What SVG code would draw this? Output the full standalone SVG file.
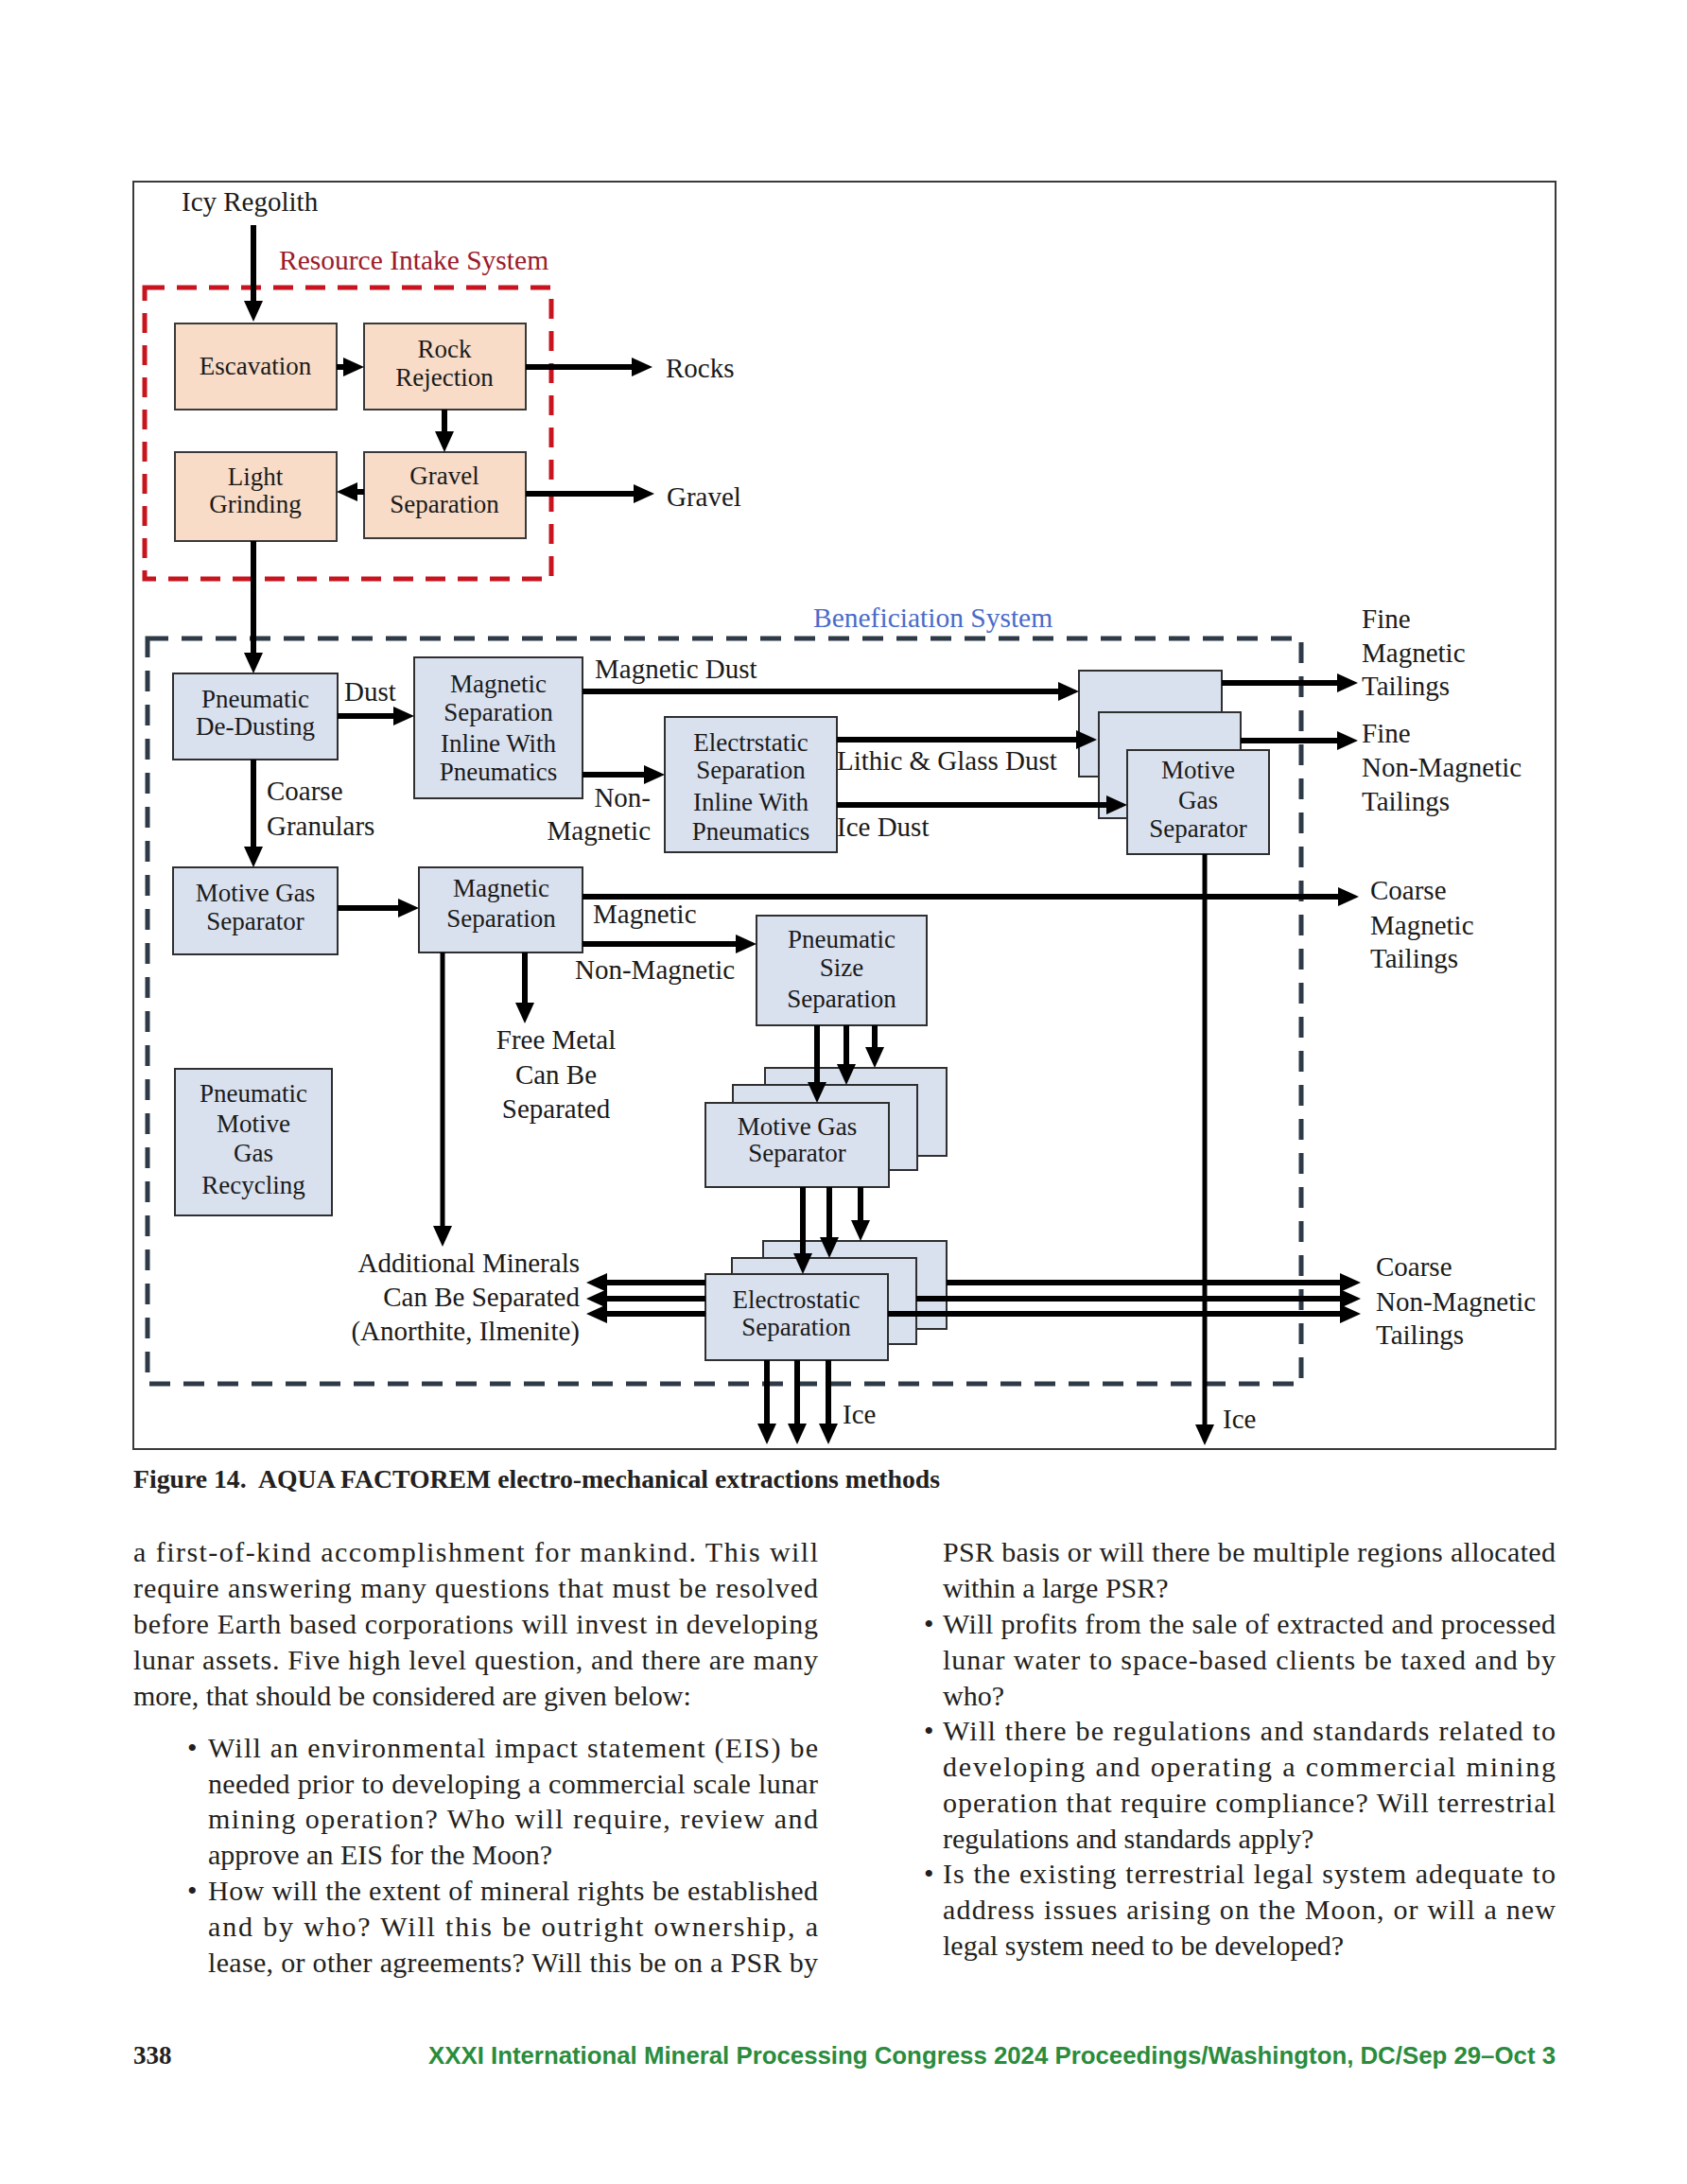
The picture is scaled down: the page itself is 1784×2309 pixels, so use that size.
<svg xmlns="http://www.w3.org/2000/svg" width="1784" height="2309" viewBox="0 0 1784 2309">
<style>
.t{font-family:"Liberation Serif","Times New Roman",serif;fill:#1a1a1a}
.lb{font-size:29px}
.bx{font-size:27px;text-anchor:middle}
.pe{fill:#f8dcc7;stroke:#3a3a3a;stroke-width:2}
.bl{fill:#d9e1ef;stroke:#2f2f2f;stroke-width:2}
.ar{fill:none;stroke:#000;stroke-width:6;marker-end:url(#ah)}
.thin{stroke-width:5}
.body{font-family:"Liberation Serif","Times New Roman",serif;font-size:30px;fill:#231f20}
</style>
<defs>
<marker id="ah" markerUnits="userSpaceOnUse" markerWidth="22" markerHeight="20" viewBox="0 0 22 20" refX="2" refY="10" orient="auto"><path d="M0,0 L22,10 L0,20 z" fill="#000"/></marker>
</defs>
<rect width="1784" height="2309" fill="#fff"/>
<rect id="frame" x="141" y="192" width="1504" height="1340" fill="none" stroke="#3a3a3a" stroke-width="2"/>

<g id="resource-intake-system">
<rect x="153" y="304" width="430" height="308" fill="none" stroke="#c8141e" stroke-width="5" stroke-dasharray="21 13"/>
<text class="t" x="295" y="285" font-size="29.5" style="fill:#9b1b2b">Resource Intake System</text>
</g>
<g id="beneficiation-system">
<rect x="156" y="675" width="1220" height="788" fill="none" stroke="#2f3a48" stroke-width="5" stroke-dasharray="22 14"/>
<text class="t" x="860" y="663" font-size="29.5" style="fill:#4a6bc9">Beneficiation System</text>
</g>

<g id="escavation"><rect class="pe" x="185" y="342" width="171" height="91"/><text class="t bx" x="270" y="396">Escavation</text></g>
<g id="rock-rejection"><rect class="pe" x="385" y="342" width="171" height="91"/><text class="t bx" x="470" y="378">Rock</text><text class="t bx" x="470" y="408">Rejection</text></g>
<g id="light-grinding"><rect class="pe" x="185" y="478" width="171" height="94"/><text class="t bx" x="270" y="513">Light</text><text class="t bx" x="270" y="542">Grinding</text></g>
<g id="gravel-separation"><rect class="pe" x="385" y="478" width="171" height="91"/><text class="t bx" x="470" y="512">Gravel</text><text class="t bx" x="470" y="542">Separation</text></g>

<g id="pneumatic-de-dusting"><rect class="bl" x="183" y="712" width="174" height="91"/><text class="t bx" x="270" y="748">Pneumatic</text><text class="t bx" x="270" y="777">De-Dusting</text></g>
<g id="magnetic-separation-inline"><rect class="bl" x="438" y="695" width="178" height="149"/><text class="t bx" x="527" y="732">Magnetic</text><text class="t bx" x="527" y="762">Separation</text><text class="t bx" x="527" y="795">Inline With</text><text class="t bx" x="527" y="825">Pneumatics</text></g>
<g id="electrstatic-separation-inline"><rect class="bl" x="703" y="758" width="182" height="143"/><text class="t bx" x="794" y="794">Electrstatic</text><text class="t bx" x="794" y="823">Separation</text><text class="t bx" x="794" y="857">Inline With</text><text class="t bx" x="794" y="888">Pneumatics</text></g>
<g id="motive-gas-separator-right"><rect class="bl" x="1141" y="709" width="151" height="112"/><rect class="bl" x="1162" y="753" width="150" height="112"/><rect class="bl" x="1192" y="793" width="150" height="110"/><text class="t bx" x="1267" y="823">Motive</text><text class="t bx" x="1267" y="855">Gas</text><text class="t bx" x="1267" y="885">Separator</text></g>
<g id="motive-gas-separator-left"><rect class="bl" x="183" y="917" width="174" height="92"/><text class="t bx" x="270" y="953">Motive Gas</text><text class="t bx" x="270" y="983">Separator</text></g>
<g id="magnetic-separation"><rect class="bl" x="443" y="917" width="173" height="90"/><text class="t bx" x="530" y="948">Magnetic</text><text class="t bx" x="530" y="980">Separation</text></g>
<g id="pneumatic-size-separation"><rect class="bl" x="800" y="968" width="180" height="116"/><text class="t bx" x="890" y="1002">Pneumatic</text><text class="t bx" x="890" y="1032">Size</text><text class="t bx" x="890" y="1065">Separation</text></g>
<g id="pneumatic-motive-gas-recycling"><rect class="bl" x="185" y="1130" width="166" height="155"/><text class="t bx" x="268" y="1165">Pneumatic</text><text class="t bx" x="268" y="1197">Motive</text><text class="t bx" x="268" y="1228">Gas</text><text class="t bx" x="268" y="1262">Recycling</text></g>
<g id="motive-gas-separator-stack"><rect class="bl" x="809" y="1129" width="192" height="93"/><rect class="bl" x="775" y="1147" width="195" height="90"/><rect class="bl" x="746" y="1166" width="194" height="89"/><text class="t bx" x="843" y="1200">Motive Gas</text><text class="t bx" x="843" y="1228">Separator</text></g>
<g id="electrostatic-separation-stack"><rect class="bl" x="807" y="1312" width="194" height="93"/><rect class="bl" x="774" y="1330" width="195" height="91"/><rect class="bl" x="746" y="1347" width="193" height="91"/><text class="t bx" x="842" y="1383">Electrostatic</text><text class="t bx" x="842" y="1412">Separation</text></g>

<g id="labels">
<text class="t lb" x="192" y="223">Icy Regolith</text>
<text class="t lb" x="704" y="399">Rocks</text>
<text class="t lb" x="705" y="535">Gravel</text>
<text class="t lb" x="364" y="741">Dust</text>
<text class="t lb" x="282" y="846">Coarse</text>
<text class="t lb" x="282" y="883">Granulars</text>
<text class="t lb" x="629" y="717">Magnetic Dust</text>
<text class="t lb" x="688" y="853" text-anchor="end">Non-</text>
<text class="t lb" x="688" y="888" text-anchor="end">Magnetic</text>
<text class="t lb" x="885" y="814">Lithic &amp; Glass Dust</text>
<text class="t lb" x="885" y="884">Ice Dust</text>
<text class="t lb" x="1440" y="664">Fine</text>
<text class="t lb" x="1440" y="700">Magnetic</text>
<text class="t lb" x="1440" y="735">Tailings</text>
<text class="t lb" x="1440" y="785">Fine</text>
<text class="t lb" x="1440" y="821">Non-Magnetic</text>
<text class="t lb" x="1440" y="857">Tailings</text>
<text class="t lb" x="1449" y="951">Coarse</text>
<text class="t lb" x="1449" y="988">Magnetic</text>
<text class="t lb" x="1449" y="1023">Tailings</text>
<text class="t lb" x="627" y="976">Magnetic</text>
<text class="t lb" x="608" y="1035">Non-Magnetic</text>
<text class="t lb" x="588" y="1109" text-anchor="middle">Free Metal</text>
<text class="t lb" x="588" y="1146" text-anchor="middle">Can Be</text>
<text class="t lb" x="588" y="1182" text-anchor="middle">Separated</text>
<text class="t lb" x="613" y="1345" text-anchor="end" font-size="30">Additional Minerals</text>
<text class="t lb" x="613" y="1381" text-anchor="end" font-size="30">Can Be Separated</text>
<text class="t lb" x="613" y="1417" text-anchor="end" font-size="30">(Anorthite, Ilmenite)</text>
<text class="t lb" x="1455" y="1349">Coarse</text>
<text class="t lb" x="1455" y="1386">Non-Magnetic</text>
<text class="t lb" x="1455" y="1421">Tailings</text>
<text class="t lb" x="891" y="1505">Ice</text>
<text class="t lb" x="1293" y="1510">Ice</text>
</g>

<g id="connectors">
<path class="ar" d="M268,238 V320"/>
<path class="ar" d="M356,388 H365"/>
<path class="ar" d="M556,388 H670"/>
<path class="ar" d="M470,433 V458"/>
<path class="ar" d="M385,520 H376"/>
<path class="ar" d="M556,522 H672"/>
<path class="ar" d="M268,572 V692"/>
<path class="ar" d="M357,757 H418"/>
<path class="ar" d="M268,803 V897"/>
<path class="ar" d="M616,731 H1121"/>
<path class="ar" d="M616,819 H683"/>
<path class="ar" d="M885,782 H1140"/>
<path class="ar" d="M885,851 H1172"/>
<path class="ar" d="M1292,722 H1416"/>
<path class="ar" d="M1312,783 H1416"/>
<path class="ar thin" d="M1274,903 V1508"/>
<path class="ar" d="M357,960 H423"/>
<path class="ar" d="M616,948 H1417"/>
<path class="ar" d="M616,998 H780"/>
<path class="ar" d="M555,1007 V1062"/>
<path class="ar thin" d="M468,1007 V1298"/>
<path class="ar" d="M864,1084 V1146"/>
<path class="ar" d="M895,1084 V1127"/>
<path class="ar" d="M925,1084 V1109"/>
<path class="ar" d="M849,1255 V1327"/>
<path class="ar" d="M877,1255 V1310"/>
<path class="ar" d="M910,1255 V1292"/>
<path class="ar" d="M746,1356 H640"/>
<path class="ar" d="M746,1373 H640"/>
<path class="ar" d="M746,1389 H640"/>
<path class="ar" d="M1001,1356 H1419"/>
<path class="ar" d="M969,1373 H1419"/>
<path class="ar" d="M939,1389 H1419"/>
<path class="ar" d="M811,1438 V1507"/>
<path class="ar" d="M843,1438 V1507"/>
<path class="ar" d="M876,1438 V1507"/>
</g>

<g id="caption">
<text x="141" y="1573" font-family="Liberation Serif, serif" font-weight="bold" font-size="27" fill="#231f20" textLength="853" lengthAdjust="spacingAndGlyphs">Figure 14.&#160; AQUA FACTOREM electro-mechanical extractions methods</text>
</g>

<g id="body-text">
<text class="body" x="141" y="1651" textLength="724" lengthAdjust="spacing">a first-of-kind accomplishment for mankind. This will</text>
<text class="body" x="141" y="1689" textLength="724" lengthAdjust="spacing">require answering many questions that must be resolved</text>
<text class="body" x="141" y="1727" textLength="724" lengthAdjust="spacing">before Earth based corporations will invest in developing</text>
<text class="body" x="141" y="1765" textLength="724" lengthAdjust="spacing">lunar assets. Five high level question, and there are many</text>
<text class="body" x="141" y="1803">more, that should be considered are given below:</text>
<text class="body" x="198" y="1858">•</text>
<text class="body" x="220" y="1858" textLength="645" lengthAdjust="spacing">Will an environmental impact statement (EIS) be</text>
<text class="body" x="220" y="1896" textLength="645" lengthAdjust="spacing">needed prior to developing a commercial scale lunar</text>
<text class="body" x="220" y="1933" textLength="645" lengthAdjust="spacing">mining operation? Who will require, review and</text>
<text class="body" x="220" y="1971">approve an EIS for the Moon?</text>
<text class="body" x="198" y="2009">•</text>
<text class="body" x="220" y="2009" textLength="645" lengthAdjust="spacing">How will the extent of mineral rights be established</text>
<text class="body" x="220" y="2047" textLength="645" lengthAdjust="spacing">and by who? Will this be outright ownership, a</text>
<text class="body" x="220" y="2085" textLength="645" lengthAdjust="spacing">lease, or other agreements? Will this be on a PSR by</text>

<text class="body" x="997" y="1651" textLength="648" lengthAdjust="spacing">PSR basis or will there be multiple regions allocated</text>
<text class="body" x="997" y="1689">within a large PSR?</text>
<text class="body" x="977" y="1727">•</text>
<text class="body" x="997" y="1727" textLength="648" lengthAdjust="spacing">Will profits from the sale of extracted and processed</text>
<text class="body" x="997" y="1765" textLength="648" lengthAdjust="spacing">lunar water to space-based clients be taxed and by</text>
<text class="body" x="997" y="1803">who?</text>
<text class="body" x="977" y="1840">•</text>
<text class="body" x="997" y="1840" textLength="648" lengthAdjust="spacing">Will there be regulations and standards related to</text>
<text class="body" x="997" y="1878" textLength="648" lengthAdjust="spacing">developing and operating a commercial mining</text>
<text class="body" x="997" y="1916" textLength="648" lengthAdjust="spacing">operation that require compliance? Will terrestrial</text>
<text class="body" x="997" y="1954">regulations and standards apply?</text>
<text class="body" x="977" y="1991">•</text>
<text class="body" x="997" y="1991" textLength="648" lengthAdjust="spacing">Is the existing terrestrial legal system adequate to</text>
<text class="body" x="997" y="2029" textLength="648" lengthAdjust="spacing">address issues arising on the Moon, or will a new</text>
<text class="body" x="997" y="2067">legal system need to be developed?</text>
</g>

<g id="footer">
<text x="141" y="2182" font-family="Liberation Serif, serif" font-weight="bold" font-size="27" fill="#231f20">338</text>
<text x="453" y="2182" font-family="Liberation Sans, Arial, sans-serif" font-weight="bold" font-size="25" fill="#2a8c3c" textLength="1192" lengthAdjust="spacingAndGlyphs">XXXI International Mineral Processing Congress 2024 Proceedings/Washington, DC/Sep 29–Oct 3</text>
</g>
</svg>
